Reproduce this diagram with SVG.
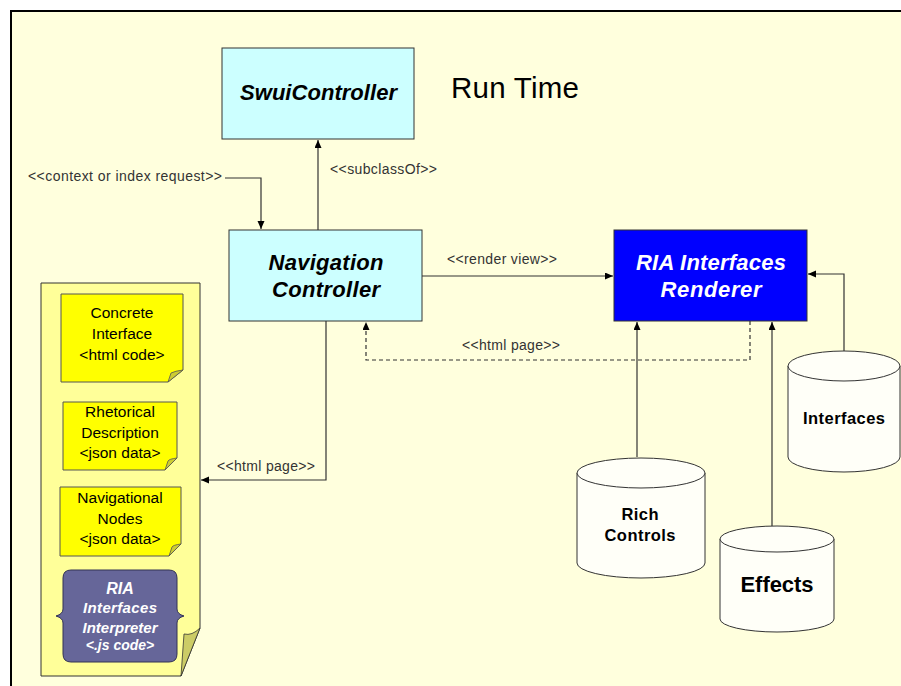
<svg xmlns="http://www.w3.org/2000/svg" width="901" height="686" viewBox="0 0 901 686">
<defs>
<style>
.box{stroke:#333;stroke-width:1}
.cyan{fill:#CCFFFF}
.lbl{font-family:"Liberation Sans",Arial,sans-serif;font-size:14px;fill:#333}
.bi{font-family:"Liberation Sans",Arial,sans-serif;font-weight:bold;font-style:italic;text-anchor:middle}
.b{font-family:"Liberation Sans",Arial,sans-serif;font-weight:bold;text-anchor:middle;fill:#000}
.n{font-family:"Liberation Sans",Arial,sans-serif;font-size:15.5px;text-anchor:middle;fill:#000}
.con{fill:none;stroke:#333;stroke-width:1.2}
.cyl{fill:#FFFFF8;stroke:#333;stroke-width:1}
.note{fill:#FFFF00;stroke:#555;stroke-width:1}
.fold{fill:#CCCC33;stroke:#555;stroke-width:0.8}
</style>
<marker id="arr" markerUnits="userSpaceOnUse" markerWidth="9" markerHeight="8" refX="8" refY="3.5" orient="auto">
<path d="M0,0 L8,3.5 L0,7 Z" fill="#000"/>
</marker>
</defs>
<rect x="0" y="0" width="901" height="686" fill="#FFFFFF"/>
<rect x="11" y="11" width="890" height="675" fill="#FFFFDD"/>
<line x1="10" y1="11" x2="901" y2="11" stroke="#000" stroke-width="2"/>
<line x1="11" y1="10" x2="11" y2="686" stroke="#000" stroke-width="2"/>

<text x="451" y="98" font-family="Liberation Sans, Arial, sans-serif" font-size="29.5" fill="#000" textLength="128">Run Time</text>

<g id="connectors">
<path class="con" d="M225,178 H261 V229" marker-end="url(#arr)"/>
<path class="con" d="M318,230 V140" marker-end="url(#arr)" stroke="#555"/>
<path class="con" d="M422,276 H613" marker-end="url(#arr)"/>
<path class="con" d="M750,321 V360 H366 V322" stroke-dasharray="4,3" marker-end="url(#arr)"/>
<path class="con" d="M326,321 V480 H201" marker-end="url(#arr)"/>
<path class="con" d="M637,457 V322" marker-end="url(#arr)"/>
<path class="con" d="M772,526 V322" marker-end="url(#arr)"/>
<path class="con" d="M844,351 V274 H808" marker-end="url(#arr)"/>
<text class="lbl" x="28" y="181" textLength="194">&lt;&lt;context or index request&gt;&gt;</text>
<text class="lbl" x="330" y="174" textLength="107">&lt;&lt;subclassOf&gt;&gt;</text>
<text class="lbl" x="447" y="264" textLength="110">&lt;&lt;render view&gt;&gt;</text>
<text class="lbl" x="462" y="350" textLength="98">&lt;&lt;html page&gt;&gt;</text>
<text class="lbl" x="217" y="471" textLength="98">&lt;&lt;html page&gt;&gt;</text>
</g>

<g id="swui-controller">
<rect class="box cyan" x="222" y="48" width="192" height="91"/>
<text class="bi" x="318.5" y="100" font-size="22" fill="#000" textLength="157">SwuiController</text>
</g>

<g id="navigation-controller">
<rect class="box cyan" x="229" y="230" width="193" height="91"/>
<text class="bi" x="326" y="270" font-size="22" fill="#000" textLength="115">Navigation</text>
<text class="bi" x="326" y="297" font-size="22" fill="#000" textLength="108">Controller</text>
</g>

<g id="ria-renderer">
<rect class="box" x="614" y="230" width="193" height="91" fill="#0000FF"/>
<text class="bi" x="711" y="270" font-size="22" fill="#FFFFFF" textLength="150">RIA Interfaces</text>
<text class="bi" x="711" y="297" font-size="22" fill="#FFFFFF" textLength="101">Renderer</text>
</g>

<g id="interfaces">
<path class="cyl" d="M788,366 V457 A56,15 0 0 0 900,457 V366"/>
<ellipse class="cyl" cx="844" cy="366" rx="56" ry="15"/>
<text class="b" x="844" y="424" font-size="16.5" textLength="82">Interfaces</text>
</g>

<g id="rich-controls">
<path class="cyl" d="M577,473 V563 A64,15 0 0 0 705,563 V473"/>
<ellipse class="cyl" cx="641" cy="473" rx="64" ry="15"/>
<text class="b" x="640" y="520" font-size="16.5" textLength="37">Rich</text>
<text class="b" x="640" y="541" font-size="16.5" textLength="71">Controls</text>
</g>

<g id="effects">
<path class="cyl" d="M720,539 V619 A57,13 0 0 0 834,619 V539"/>
<ellipse class="cyl" cx="777" cy="539" rx="57" ry="13"/>
<text class="b" x="777" y="592" font-size="22" textLength="73">Effects</text>
</g>

<g id="document">
<path d="M41,283 H200 V628 L181,676 H41 Z" fill="#FFFF99" stroke="#333" stroke-width="1"/>
<path d="M200,628 Q192,636 184,634 L181,676 Z" fill="#CCCC66" stroke="#333" stroke-width="0.8"/>
</g>

<g id="concrete-interface">
<path class="note" d="M61,294 H183 V370 L168,382 H61 Z"/>
<path class="fold" d="M183,370 Q175,371 171,373 L168,382 Z"/>
<text class="n" x="122" y="318">Concrete</text>
<text class="n" x="122" y="339">Interface</text>
<text class="n" x="122" y="360">&lt;html code&gt;</text>
</g>

<g id="rhetorical-description">
<path class="note" d="M63,402 H177 V458 L165,470 H63 Z"/>
<path class="fold" d="M177,458 Q169,459 168,461 L165,470 Z"/>
<text class="n" x="120" y="417">Rhetorical</text>
<text class="n" x="120" y="438">Description</text>
<text class="n" x="120" y="458">&lt;json data&gt;</text>
</g>

<g id="navigational-nodes">
<path class="note" d="M60,487 H181 V544 L169,556 H60 Z"/>
<path class="fold" d="M181,544 Q173,545 172,547 L169,556 Z"/>
<text class="n" x="120" y="503">Navigational</text>
<text class="n" x="120" y="524">Nodes</text>
<text class="n" x="120" y="544">&lt;json data&gt;</text>
</g>

<g id="ria-interpreter">
<path d="M71,570 H169 Q177,570 177,578 V609 Q177,614 184,616 Q177,618 177,623 V654 Q177,662 169,662 H71 Q63,662 63,654 V623 Q63,618 56,616 Q63,614 63,609 V578 Q63,570 71,570 Z" fill="#666699" stroke="#333355" stroke-width="1"/>
<text class="bi" x="120" y="594" font-size="16" fill="#FFFFFF">RIA</text>
<text class="bi" x="120" y="613" font-size="15" fill="#FFFFFF" textLength="74">Interfaces</text>
<text class="bi" x="120" y="633" font-size="15" fill="#FFFFFF">Interpreter</text>
<text class="bi" x="120" y="650" font-size="14" fill="#FFFFFF">&lt;.js code&gt;</text>
</g>
</svg>
